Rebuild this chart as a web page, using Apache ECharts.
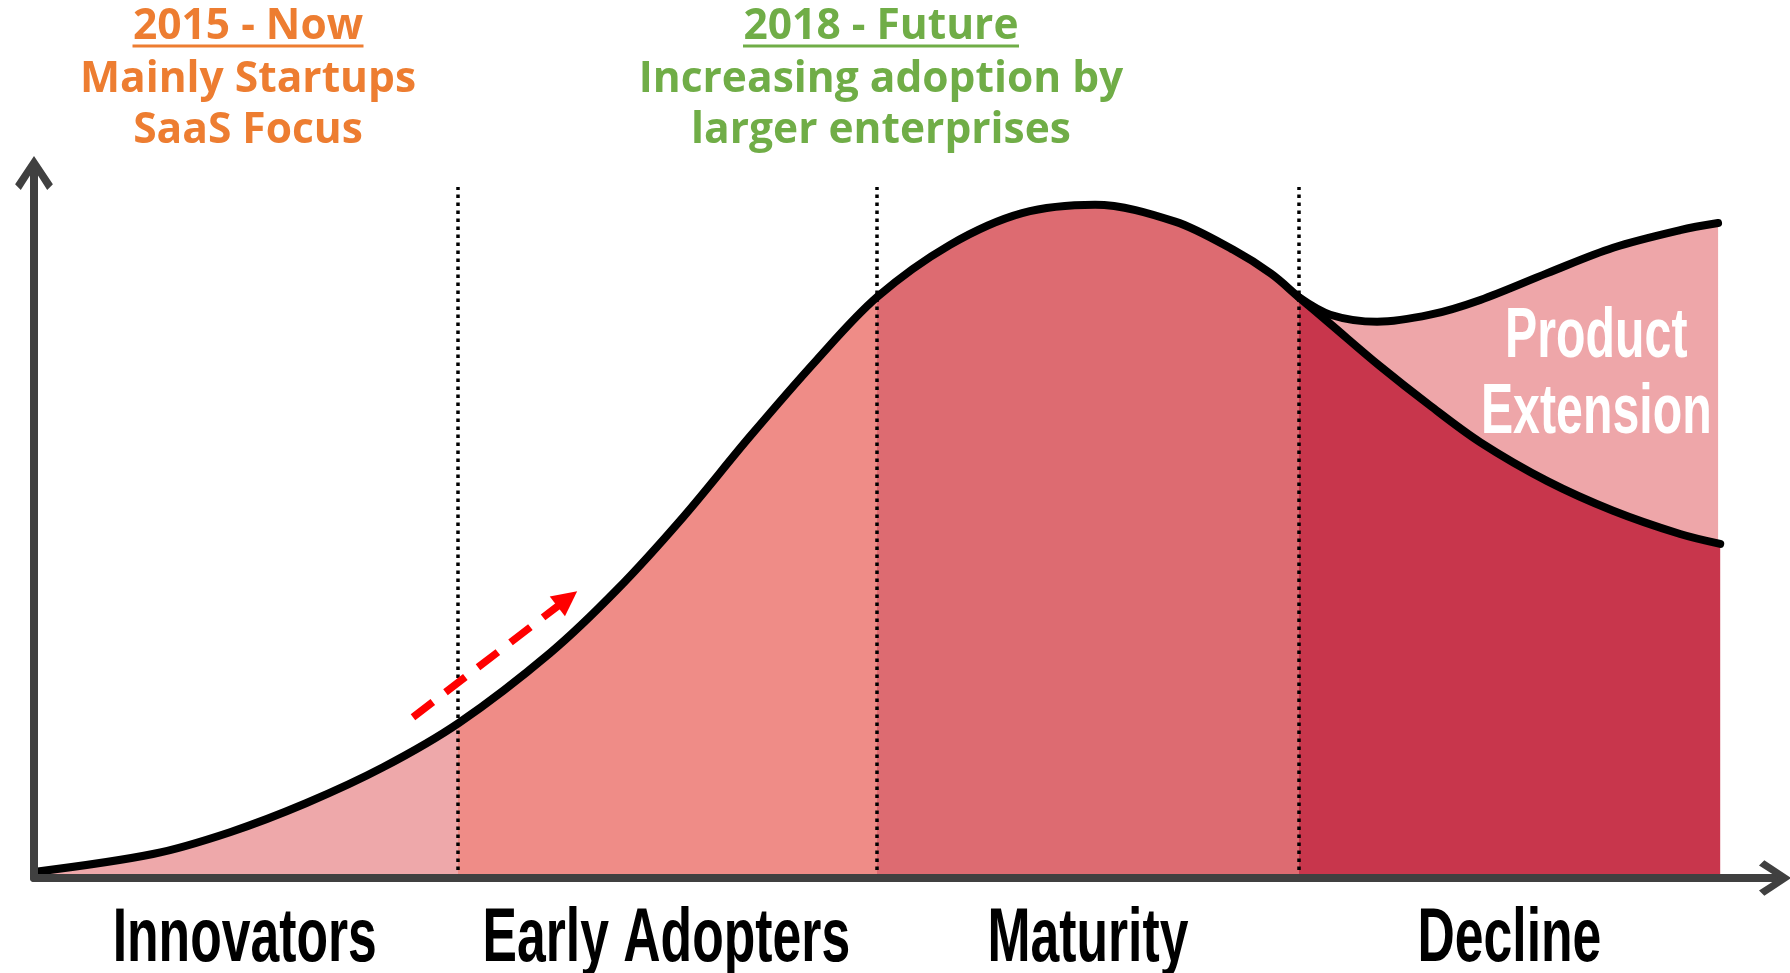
<!DOCTYPE html>
<html>
<head>
<meta charset="utf-8">
<script src="https://cdn.jsdelivr.net/npm/echarts@6/dist/echarts.min.js"></script>
<style>
    html, body { margin: 0; padding: 0; background: #fff; }
    #lifecycle { width: 1790px; height: 973px; }
</style>
</head>
<body>
<div id="lifecycle"></div>
<script>
    // stages along the x axis (one unit per stage)
    let stageNames = ['Innovators', 'Early Adopters', 'Maturity', 'Decline'];
    let stageEdges = [1.005, 2, 3];
    let stageColors = ['#EEA8AA', '#EF8C87', '#DD6B71', '#C8364C'];

    // main lifecycle curve
    let curveX = [0, 0.282, 0.465, 0.645, 0.828, 1.008, 1.224, 1.383, 1.540, 1.698, 1.857, 2.0,
        2.173, 2.344, 2.517, 2.707, 2.845, 2.935, 3.0, 3.075, 3.193, 3.312, 3.431, 3.590, 3.746, 3.905, 4.0];
    let curveY = [0.85, 3.4, 6.5, 10.6, 15.7, 22.0, 31.9, 40.9, 51.2, 62.6, 73.5, 82.4,
        89.8, 94.3, 95.5, 93.1, 89.1, 85.7, 82.4, 78.6, 72.6, 67.0, 61.8, 56.3, 52.1, 48.8, 47.4];

    // product extension branch
    let extensionX = [3.0, 3.075, 3.186, 3.312, 3.431, 3.590, 3.746, 3.905, 3.995];
    let extensionY = [82.4, 79.9, 78.9, 79.9, 82.0, 85.8, 89.4, 91.9, 92.9];
    let extensionLabel = 'Product\nExtension';
    let extensionLabelAt = [3.706, 71.3];

    // red dashed "push" arrow
    let arrowFrom = [0.899, 22.8];
    let arrowTo = [1.265, 39.6];
    let boundaryTop = 98;

    let pairs = (xs, ys) => xs.map((x, i) => [x, ys[i]]);
    let chevron = 'path://M20,0 L40,30 L34,36 L20,14 L6,36 L0,30 Z';
    let condensed = 0.68;

    let myChart = echarts.init(document.getElementById('lifecycle'));

    let topNote = (color, lines, lineWidth) => ({
        text: '{h|' + lines[0] + '}\n{u| }\n{b|' + lines[1] + '}\n{b|' + lines[2] + '}',
        textAlign: 'center',
        padding: 0,
        top: 16,
        textStyle: {
            rich: {
                h: { fontFamily: 'Open Sans', fontWeight: 'bold', fontSize: 42.5, color: color, lineHeight: 22 },
                u: { width: lineWidth, height: 3, backgroundColor: color, lineHeight: 16, fontSize: 1 },
                b: { fontFamily: 'Open Sans', fontWeight: 'bold', fontSize: 42.5, color: color, lineHeight: 51 }
            }
        }
    });

    // narrow text drawn through the axes (squeezed to look like a condensed face)
    let narrowText = (p, text, size, lineHeight) => ({
        type: 'text',
        x: p[0],
        y: p[1],
        scaleX: condensed,
        style: {
            text: text,
            fill: '#fff',
            font: 'bold ' + size + 'px "Liberation Sans", Arimo, sans-serif',
            lineHeight: lineHeight,
            align: 'center',
            verticalAlign: 'middle',
            textAlign: 'center',
            textVerticalAlign: 'middle'
        }
    });

    let option = {
        animation: false,
        backgroundColor: '#fff',
        title: [
            Object.assign(topNote('#ED7D31', ['2015 - Now', 'Mainly Startups', 'SaaS Focus'], 231), { left: 248 }),
            Object.assign(topNote('#70AD47', ['2018 - Future', 'Increasing adoption by', 'larger enterprises'], 276), { left: 881 })
        ],
        grid: {
            left: 34,
            right: 15,
            top: 173,
            bottom: 95,
            containLabel: false,
            outerBoundsMode: 'none'
        },
        visualMap: {
            show: false,
            type: 'piecewise',
            dimension: 0,
            seriesIndex: 1,
            pieces: [
                { gte: -1, lt: stageEdges[0], color: stageColors[0] },
                { gte: stageEdges[0], lt: stageEdges[1], color: stageColors[1] },
                { gte: stageEdges[1], lt: stageEdges[2], color: stageColors[2] },
                { gte: stageEdges[2], lte: 10, color: stageColors[3] }
            ]
        },
        xAxis: {
            type: 'value',
            min: 0,
            max: 4.13,
            z: 10,
            axisLine: {
                symbol: ['none', chevron],
                symbolSize: [36, 32],
                lineStyle: { color: '#404040', width: 8, cap: 'round' }
            },
            axisTick: { show: false },
            splitLine: { show: false },
            axisLabel: { show: false }
        },
        yAxis: {
            type: 'value',
            min: 0,
            max: 100,
            z: 10,
            axisLine: {
                show: true,
                symbol: ['none', chevron],
                symbolSize: [38, 34],
                lineStyle: { color: '#404040', width: 8, cap: 'round' }
            },
            axisTick: { show: false },
            axisLabel: { show: false },
            splitLine: { show: false }
        },
        series: [{
            name: 'Product extension area',
            type: 'line',
            smooth: 0.33,
            showSymbol: false,
            silent: true,
            lineStyle: { width: 0 },
            areaStyle: { color: '#EEA6A9', opacity: 1 },
            data: pairs(extensionX, extensionY)
        }, {
            name: 'Lifecycle',
            type: 'line',
            smooth: 0.33,
            showSymbol: false,
            silent: true,
            lineStyle: { color: '#000', width: 8, cap: 'round', join: 'round' },
            areaStyle: { opacity: 1 },
            data: pairs(curveX, curveY),
            markLine: {
                silent: true,
                symbol: ['none', 'none'],
                label: { show: false },
                lineStyle: { color: '#000', width: 3.5, type: [3.5, 4.5] },
                data: stageEdges.map(e => [{ coord: [e, 0] }, { coord: [e, boundaryTop] }]).concat([
                    [{
                        coord: arrowFrom,
                        lineStyle: { color: '#FF0000', width: 7.5, type: [25, 16] }
                    }, {
                        coord: arrowTo,
                        symbol: 'triangle',
                        symbolSize: [25, 25]
                    }]
                ])
            }
        }, {
            name: 'Product extension',
            type: 'line',
            smooth: 0.33,
            showSymbol: false,
            silent: true,
            lineStyle: { color: '#000', width: 8, cap: 'round', join: 'round' },
            data: pairs(extensionX, extensionY)
        }, {
            name: 'Product extension label',
            type: 'custom',
            silent: true,
            z: 20,
            data: [extensionLabelAt],
            renderItem: (params, api) => {
                let p = api.coord([api.value(0), api.value(1)]);
                return narrowText(p, extensionLabel, 71, 76);
            }
        }, {
            name: 'Stage labels',
            type: 'custom',
            silent: true,
            clip: false,
            z: 20,
            data: stageNames.map((name, i) => [i + 0.5, 0]),
            renderItem: (params, api) => {
                let p = api.coord([api.value(0), api.value(1)]);
                let el = narrowText([p[0], p[1] + 62], stageNames[params.dataIndex], 76, 80);
                el.style.fill = '#000';
                return el;
            }
        }]
    };

    myChart.setOption(option);

    window.addEventListener('resize', () => {
        if (myChart) {
            myChart.resize();
        }
    });
</script>
</body>
</html>
